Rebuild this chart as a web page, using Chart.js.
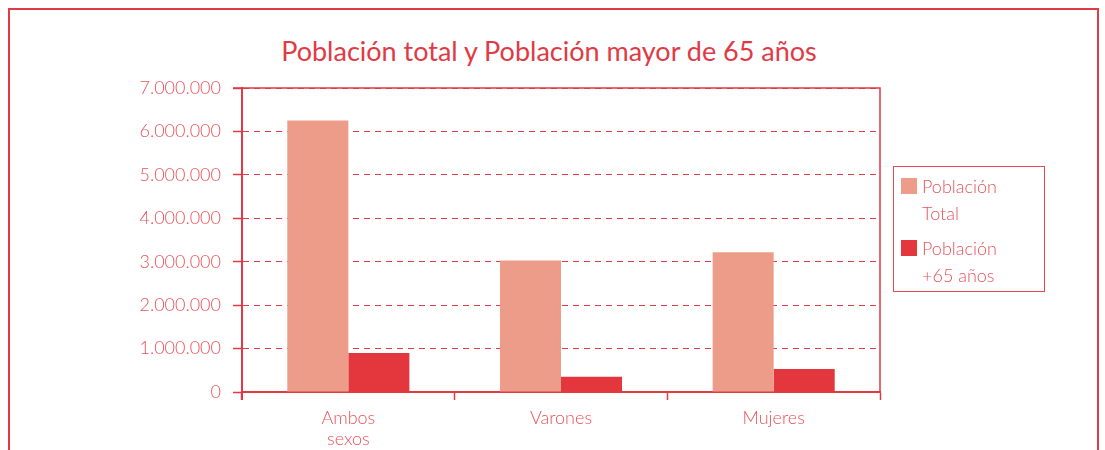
<!DOCTYPE html>
<html>
<head>
<meta charset="utf-8">
<script src="https://cdn.jsdelivr.net/npm/chart.js@4.4.0/dist/chart.umd.min.js"></script>
<style>
  html, body { margin: 0; padding: 0; background: #fff; }
  #wrap { position: relative; width: 1105px; height: 450px; overflow: hidden; font-family: Lato, sans-serif; }
  #frame { position: absolute; left: 8px; top: 8px; width: 1087px; height: 470px; border: 2px solid #e03a45; }
  #title { position: absolute; left: 0; top: 34px; width: 1098px; text-align: center; color: #e03a45; font-size: 27px; }
  #legend { position: absolute; left: 893px; top: 166px; width: 150px; height: 124px; border: 1.5px solid #e8474f; }
  .item { position: relative; padding-left: 28px; color: #e8525a; font-size: 18px; font-weight: 300; line-height: 27px; margin-top: 6px; }
  .item + .item { margin-top: 8px; }
  .sw { position: absolute; left: 7px; top: 5px; width: 16px; height: 16px; }
  canvas { position: absolute; left: 0; top: 0; }
</style>
</head>
<body>
<div id="wrap">
  <div id="frame"></div>
  <div id="title"></div>
  <canvas id="chart" width="1105" height="450"></canvas>
  <div id="legend"></div>
</div>
<script>
// data
const titleText = 'Población total y Población mayor de 65 años';
const categories = [['Ambos', 'sexos'], 'Varones', 'Mujeres'];
const seriesNames = [['Población', 'Total'], ['Población', '+65 años']];
const poblacionTotal = [6250000, 3030000, 3220000];
const poblacionMayor65 = [900000, 350000, 530000];
const seriesColors = ['#ec9c89', '#e3363d'];

const red = '#e03a45';
const tickRed = '#e8525a';

document.getElementById('title').textContent = titleText;

const legend = document.getElementById('legend');
seriesNames.forEach((name, i) => {
    const item = document.createElement('div');
    item.className = 'item';
    item.innerHTML = '<span class="sw" style="background:' + seriesColors[i] + '"></span>' + name.join('<br>');
    legend.appendChild(item);
});

// solid frame around the plot area
const plotFrame = {
    id: 'plotFrame',
    afterDraw(chart) {
        const a = chart.chartArea;
        const ctx = chart.ctx;
        ctx.save();
        ctx.strokeStyle = red;
        ctx.lineWidth = 1.5;
        ctx.setLineDash([]);
        ctx.beginPath();
        ctx.moveTo(a.left - 9, a.top);
        ctx.lineTo(a.right, a.top);
        ctx.lineTo(a.right, a.bottom);
        ctx.stroke();
        ctx.beginPath();
        ctx.lineWidth = 2;
        ctx.moveTo(a.left, a.top);
        ctx.lineTo(a.left, a.bottom + 8);
        ctx.stroke();
        ctx.restore();
    }
};

const ctx = document.getElementById('chart').getContext('2d');
new Chart(ctx, {
    type: 'bar',
    data: {
        labels: categories,
        datasets: [
            { label: seriesNames[0].join(' '), data: poblacionTotal, backgroundColor: seriesColors[0] },
            { label: seriesNames[1].join(' '), data: poblacionMayor65, backgroundColor: seriesColors[1] }
        ]
    },
    options: {
        responsive: false,
        animation: false,
        layout: { padding: { top: 88, right: 225, left: 0, bottom: 0 } },
        datasets: { bar: { categoryPercentage: 0.574, barPercentage: 1 } },
        plugins: {
            legend: { display: false },
            title: { display: false },
            tooltip: { enabled: false }
        },
        scales: {
            x: {
                afterFit: scale => { scale.height = 58; },
                border: { color: red, width: 2 },
                grid: {
                    offset: true,
                    drawOnChartArea: false,
                    tickLength: 8,
                    tickColor: red,
                    tickWidth: 1.5
                },
                ticks: {
                    color: tickRed,
                    padding: 8,
                    font: { family: 'Lato', size: 18, weight: 300, lineHeight: 1.17 }
                }
            },
            y: {
                min: 0,
                max: 7000000,
                afterFit: scale => { scale.width = 242; },
                border: { color: red, width: 2, dash: [6, 5] },
                grid: {
                    color: red,
                    lineWidth: 1,
                    tickLength: 9,
                    tickColor: red,
                    tickWidth: 1.5,
                    tickBorderDash: []
                },
                ticks: {
                    stepSize: 1000000,
                    color: tickRed,
                    padding: 12,
                    font: { family: 'Lato', size: 18, weight: 300 },
                    callback: v => String(v).replace(/\B(?=(\d{3})+(?!\d))/g, '.')
                }
            }
        }
    },
    plugins: [plotFrame]
});
</script>
</body>
</html>
